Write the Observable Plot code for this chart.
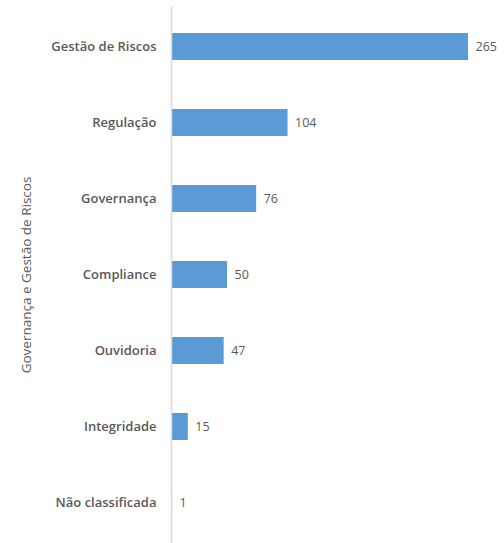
<!DOCTYPE html>
<html>
<head>
<meta charset="utf-8">
<script src="https://cdn.jsdelivr.net/npm/d3@7"></script>
<script src="https://cdn.jsdelivr.net/npm/@observablehq/plot@0.6"></script>
<style>
  html, body { margin: 0; padding: 0; background: #fff; }
</style>
</head>
<body>
<div id="chart"></div>
<script>
const categories = ["Gestão de Riscos", "Regulação", "Governança", "Compliance", "Ouvidoria", "Integridade", "Não classificada"];
const values = [265, 104, 76, 50, 47, 15, 1];
const axisTitle = "Governança e Gestão de Riscos";

const data = categories.map((c, i) => ({category: c, value: values[i]}));

const chart = Plot.plot({
  width: 504,
  height: 543,
  marginTop: 6,
  marginBottom: 0,
  marginLeft: 171,
  marginRight: 36,
  style: {fontFamily: "'Open Sans', sans-serif", fontSize: "13px", color: "#595959", background: "#fff"},
  x: {domain: [0, 265], axis: null},
  y: {domain: categories, paddingInner: 0.65, paddingOuter: 0.325, label: null},
  marks: [
    Plot.barX(data, {y: "category", x: "value", fill: "#5b9bd5"}),
    Plot.ruleX([0], {stroke: "#d9d9d9", strokeWidth: 1.5}),
    Plot.axisY({tickSize: 0, tickPadding: 15, label: null, fontWeight: 600, fontSize: 13, fill: "#595959"}),
    Plot.text(data, {y: "category", x: "value", text: d => String(d.value), dx: 7, textAnchor: "start", fontSize: 12.5, fill: "#595959"}),
    Plot.text([axisTitle], {frameAnchor: "left", textAnchor: "middle", lineAnchor: "middle", rotate: -90, dx: -145, fontSize: 13.5, fill: "#595959"})
  ]
});
document.getElementById("chart").appendChild(chart);
</script>
</body>
</html>
